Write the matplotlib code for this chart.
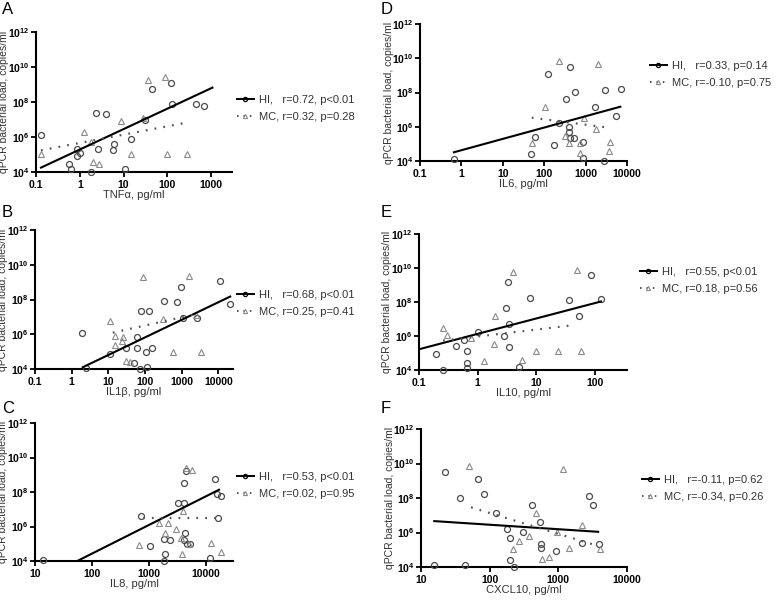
import numpy as np
import matplotlib.pyplot as plt
from matplotlib.lines import Line2D
from matplotlib.ticker import FixedLocator, FuncFormatter, NullLocator

plt.rcParams['font.family'] = 'Liberation Sans'
plt.rcParams['mathtext.fontset'] = 'custom'
plt.rcParams['mathtext.rm'] = 'Liberation Sans'
plt.rcParams['mathtext.bf'] = 'Liberation Sans:bold'

# values; loads stored as log10(copies/ml)
# A - TNFa
a_hi_x = [0.13, 0.58, 0.63, 0.87, 1.02, 0.87, 1.77, 2.3, 2.6, 4.0, 5.7, 5.9, 10.6, 14.6, 30.6, 43.5, 119, 125, 453, 703]
a_hi_ylog = [6.10, 4.44, 4.15, 5.30, 5.09, 4.90, 4.00, 7.37, 5.33, 7.33, 5.28, 5.62, 4.19, 5.90, 6.95, 8.72, 9.10, 7.90, 7.87, 7.75]
a_mc_x = [0.13, 1.24, 1.77, 2.0, 2.74, 8.6, 15.1, 28, 36.5, 88, 100, 286]
a_mc_ylog = [5.01, 6.29, 5.71, 4.57, 4.48, 6.91, 5.05, 7.1, 9.28, 9.43, 5.05, 5.05]
a_hi_fit_x = [0.13, 1070]
a_hi_fit_ylog = [4.25, 8.82]
a_mc_fit_x = [0.13, 250]
a_mc_fit_ylog = [5.24, 6.8]

# B - IL1b
b_hi_x = [1.87, 2.45, 11.1, 30.4, 50, 59, 62, 77, 71, 105, 115, 131, 151, 331, 760, 955, 1070, 2570, 11200, 21000]
b_hi_ylog = [6.05, 4.04, 4.84, 5.19, 4.36, 5.23, 5.86, 7.34, 4.0, 5.0, 4.13, 7.34, 5.23, 7.92, 7.88, 8.70, 6.92, 6.96, 9.07, 7.74]
b_mc_x = [11.1, 15.1, 15.1, 23, 24.5, 30.4, 39.5, 87, 316, 562, 1620, 2500, 3300]
b_mc_ylog = [6.76, 5.38, 5.90, 5.63, 5.86, 4.48, 4.42, 9.28, 6.86, 5.0, 9.37, 7.1, 5.0]
b_hi_fit_x = [2.0, 21000]
b_hi_fit_ylog = [4.10, 8.17]
b_mc_fit_x = [13.2, 3000]
b_mc_fit_ylog = [6.09, 7.2]

# C - IL8
c_hi_x = [14, 725, 1050, 1860, 1900, 1820, 2350, 3190, 4070, 4170, 4370, 4170, 4470, 4680, 5250, 11700, 14500, 15900, 16600, 18600]
c_hi_ylog = [4.06, 6.62, 4.87, 5.26, 4.39, 4.0, 5.22, 7.35, 7.35, 8.51, 5.64, 5.22, 9.24, 4.99, 4.99, 4.16, 8.76, 7.89, 6.48, 7.78]
c_mc_x = [680, 1480, 1900, 2140, 3010, 3630, 3800, 4000, 4470, 5640, 5000, 12200, 18600]
c_mc_ylog = [4.91, 6.21, 5.63, 6.21, 5.83, 5.36, 4.41, 6.92, 9.42, 9.29, 4.99, 5.03, 4.54]
c_hi_fit_x = [14, 17000]
c_hi_fit_ylog = [3.01, 8.13]
c_mc_fit_x = [800, 17000]
c_mc_fit_ylog = [6.52, 6.52]

# D - IL6
d_hi_x = [0.65, 48, 61, 126, 170, 224, 340, 389, 389, 427, 427, 537, 562, 871, 851, 1660, 2750, 2890, 5370, 7240]
d_hi_ylog = [4.12, 4.41, 5.40, 9.10, 4.93, 6.24, 7.60, 6.0, 5.71, 9.49, 5.36, 5.36, 8.03, 5.09, 4.19, 7.13, 4.0, 8.16, 6.65, 8.2]
d_mc_x = [50, 105, 234, 323, 389, 741, 741, 891, 1820, 2000, 3630, 3800]
d_mc_ylog = [5.07, 7.13, 9.84, 5.48, 5.07, 5.07, 4.49, 6.49, 5.85, 9.66, 4.58, 5.09]
d_hi_fit_x = [0.66, 6900]
d_hi_fit_ylog = [4.51, 7.17]
d_mc_fit_x = [50, 3470]
d_mc_fit_ylog = [6.53, 5.95]

# E - IL10
e_hi_x = [0.193, 0.257, 0.42, 0.58, 0.66, 0.66, 0.66, 1.0, 2.79, 3.02, 3.3, 3.44, 3.44, 5.1, 7.8, 35.9, 53, 85, 126]
e_hi_ylog = [4.94, 4.0, 5.41, 5.77, 5.12, 4.43, 4.10, 6.24, 6.02, 7.63, 9.17, 6.71, 5.38, 4.18, 8.26, 8.09, 7.20, 9.56, 8.20]
e_mc_x = [0.257, 0.30, 0.78, 1.27, 1.95, 1.88, 4.0, 5.75, 9.8, 23.5, 50, 57.5]
e_mc_ylog = [6.50, 6.06, 5.87, 4.53, 7.18, 5.53, 9.74, 4.59, 5.14, 5.14, 9.89, 5.14]
e_hi_fit_x = [0.1, 126]
e_hi_fit_ylog = [5.22, 8.03]
e_mc_fit_x = [0.257, 46]
e_mc_fit_ylog = [5.73, 6.65]

# F - CXCL10
f_hi_x = [15.6, 22.6, 37, 44.4, 68.6, 82, 124, 178, 201, 201, 229, 302, 407, 537, 550, 550, 933, 2190, 2820, 3240, 3890]
f_hi_ylog = [4.10, 9.48, 8.02, 4.10, 9.09, 8.21, 7.11, 6.19, 5.71, 4.43, 4.0, 6.02, 7.59, 6.62, 5.36, 5.11, 4.93, 5.40, 8.14, 7.59, 5.32]
f_mc_x = [50.7, 219, 263, 380, 478, 575, 724, 955, 1170, 1420, 2190, 3980]
f_mc_ylog = [9.83, 5.07, 5.50, 5.81, 7.11, 4.49, 4.58, 6.04, 9.67, 5.11, 6.43, 5.07]
f_hi_fit_x = [15.6, 3800]
f_hi_fit_ylog = [6.66, 6.04]
f_mc_fit_x = [53.5, 3800]
f_mc_fit_ylog = [7.46, 5.22]

letters = ['A', 'B', 'C', 'D', 'E', 'F']
x_labels = ['TNFα, pg/ml', 'IL1β, pg/ml', 'IL8, pg/ml', 'IL6, pg/ml', 'IL10, pg/ml', 'CXCL10, pg/ml']
hi_stats = ['r=0.72, p<0.01', 'r=0.68, p<0.01', 'r=0.53, p<0.01', 'r=0.33, p=0.14', 'r=0.55, p<0.01', 'r=-0.11, p=0.62']
mc_stats = ['r=0.32, p=0.28', 'r=0.25, p=0.41', 'r=0.02, p=0.95', 'r=-0.10, p=0.75', 'r=0.18, p=0.56', 'r=-0.34, p=0.26']
x_ticks = [[0.1, 1, 10, 100, 1000],
           [0.1, 1, 10, 100, 1000, 10000],
           [10, 100, 1000, 10000],
           [0.1, 1, 10, 100, 1000, 10000],
           [0.1, 1, 10, 100],
           [10, 100, 1000, 10000]]
x_limits = [(0.1, 3000), (0.1, 25000), (10, 30000), (0.1, 10000), (0.1, 350), (10, 10000)]
y_ticks = [1e4, 1e6, 1e8, 1e10, 1e12]

data = [
    (a_hi_x, a_hi_ylog, a_mc_x, a_mc_ylog, a_hi_fit_x, a_hi_fit_ylog, a_mc_fit_x, a_mc_fit_ylog),
    (b_hi_x, b_hi_ylog, b_mc_x, b_mc_ylog, b_hi_fit_x, b_hi_fit_ylog, b_mc_fit_x, b_mc_fit_ylog),
    (c_hi_x, c_hi_ylog, c_mc_x, c_mc_ylog, c_hi_fit_x, c_hi_fit_ylog, c_mc_fit_x, c_mc_fit_ylog),
    (d_hi_x, d_hi_ylog, d_mc_x, d_mc_ylog, d_hi_fit_x, d_hi_fit_ylog, d_mc_fit_x, d_mc_fit_ylog),
    (e_hi_x, e_hi_ylog, e_mc_x, e_mc_ylog, e_hi_fit_x, e_hi_fit_ylog, e_mc_fit_x, e_mc_fit_ylog),
    (f_hi_x, f_hi_ylog, f_mc_x, f_mc_ylog, f_hi_fit_x, f_hi_fit_ylog, f_mc_fit_x, f_mc_fit_ylog),
]

# layout in pixels: axes box (left, top, right, bottom), letter pos, legend pos
W, H = 781, 600
boxes = [(36, 32, 232, 172), (35, 230, 233, 369), (35, 423, 233, 561),
         (420, 24, 627, 161), (419, 234, 627, 370), (421, 429, 627, 567)]
letter_pos = [(2, 2), (2, 205), (2, 401), (381, 2), (381, 205), (381, 401)]
legend_pos = [(237, 95), (237, 290), (237, 472), (650, 61), (640, 267), (642, 475)]

HI_COL = '#4a4a4a'
MC_COL = '#8a8a8a'

fig = plt.figure(figsize=(W / 100, H / 100), dpi=100)

for i in range(6):
    hx, hy, mx, my, hfx, hfy, mfx, mfy = data[i]
    l, t, r, b = boxes[i]
    ax = fig.add_axes([l / W, 1 - b / H, (r - l) / W, (b - t) / H])
    ax.set_xscale('log')
    ax.set_yscale('log')

    ax.plot(hx, 10 ** np.array(hy), 'o', ms=4.3, mfc='none', mec=HI_COL, mew=0.9, clip_on=False, zorder=3)
    ax.plot(mx, 10 ** np.array(my), '^', ms=3.8, mfc='none', mec=MC_COL, mew=0.8, clip_on=False, zorder=3)
    ax.plot(hfx, 10 ** np.array(hfy), '-', color='black', lw=1.5, zorder=4)
    ax.plot(mfx, 10 ** np.array(mfy), color='#555555', lw=1.6, linestyle=(0, (0.8, 3.2)), zorder=4)

    ax.set_xlim(*x_limits[i])
    ax.set_ylim(1e4, 1e12)
    ax.xaxis.set_major_locator(FixedLocator(x_ticks[i]))
    ax.xaxis.set_minor_locator(NullLocator())
    ax.yaxis.set_major_locator(FixedLocator(y_ticks))
    ax.yaxis.set_minor_locator(NullLocator())
    ax.xaxis.set_major_formatter(FuncFormatter(lambda v, _: '%g' % v))
    ax.yaxis.set_major_formatter(FuncFormatter(lambda v, _: r'$\mathbf{10^{%d}}$' % round(np.log10(v))))
    ax.tick_params(direction='out', length=3.5, width=1.3, labelsize=7.5)
    ax.tick_params(axis='y', pad=1)
    ax.tick_params(axis='x', pad=2)
    for lab in ax.get_xticklabels():
        lab.set_fontweight('bold')
    for s in ['top', 'right']:
        ax.spines[s].set_visible(False)
    for s in ['left', 'bottom']:
        ax.spines[s].set_linewidth(1.5)

    ax.set_xlabel(x_labels[i], fontsize=8, color='#333333')
    ax.xaxis.set_label_coords(0.5, -18 / (b - t))
    ax.set_ylabel('qPCR bacterial load, copies/ml', fontsize=7.5, color='#333333')
    ax.yaxis.set_label_coords(-26.5 / (r - l), 0.5)

    handles = [Line2D([0], [0], color='black', lw=1.4, marker='o', ms=3, mfc='none', mec='black', mew=0.9),
               Line2D([0], [0], color='#555555', lw=1.4, linestyle=(0, (0.8, 2.5)), marker='^', ms=3,
                      mfc='none', mec=MC_COL, mew=0.8)]
    lx, ly = legend_pos[i]
    leg = fig.legend(handles, ['HI,   ' + hi_stats[i], 'MC, ' + mc_stats[i]],
                     loc='upper left', bbox_to_anchor=(lx / W, 1 - ly / H), frameon=False,
                     fontsize=8, handlelength=1.5, handletextpad=0.5, labelspacing=0.65,
                     borderpad=0, borderaxespad=0, numpoints=1)
    for txt in leg.get_texts():
        txt.set_color('#333333')

    px, py = letter_pos[i]
    fig.text(px / W, 1 - py / H, letters[i], fontsize=12, va='top', ha='left')

fig.savefig('out.png', dpi=100)
